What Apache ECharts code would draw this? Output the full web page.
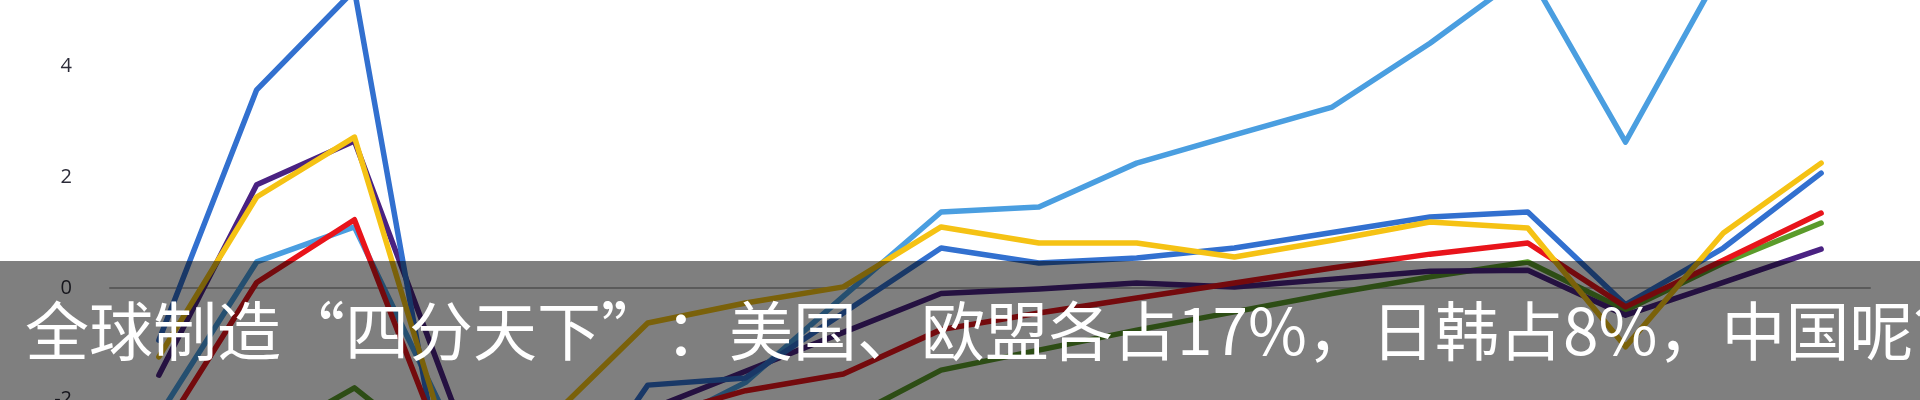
<!DOCTYPE html>
<html>
<head>
<meta charset="utf-8">
<script src="https://cdn.jsdelivr.net/npm/echarts@6/dist/echarts.min.js"></script>
<style>
html,body{margin:0;padding:0;background:#fff;}
#wrap{position:relative;width:1920px;height:400px;overflow:hidden;}
#c{position:absolute;left:0;top:-200px;width:1920px;height:900px;}
#band{position:absolute;left:0;top:261px;width:1920px;height:139px;background:rgba(0,0,0,0.5);overflow:hidden;}
#cap{position:absolute;left:25px;top:34px;white-space:nowrap;color:#fff;font-family:"Noto Sans CJK SC";font-size:64px;line-height:64px;text-spacing-trim:space-all;}
.fw{font-feature-settings:"fwid";}
</style>
</head>
<body>
<div id="wrap">
<div id="c"></div>
<div id="band"><div id="cap"></div></div>
</div>
<script>
var categories = ['2000','2001','2002','2003','2004','2005','2006','2007','2008','2009','2010','2011','2012','2013','2014','2015','2016','2017'];
var yTicks = [-6, -4, -2, 0, 2, 4, 6];
var lightBlue  = [-2.3, 0.47, 1.1, -2.55, -3.0, -2.6, -1.7, -0.15, 1.37, 1.46, 2.25, 2.76, 3.26, 4.41, 5.7, 2.63, 5.8, 6.0];
var mediumBlue = [-0.94, 3.57, 5.37, -4.5, -4.3, -1.75, -1.62, -0.45, 0.72, 0.45, 0.54, 0.72, 1.0, 1.28, 1.37, -0.3, 0.72, 2.07];
var yellow     = [-1.24, 1.64, 2.72, -3.1, -2.35, -0.63, -0.27, 0.02, 1.1, 0.81, 0.81, 0.56, 0.86, 1.19, 1.08, -1.06, 0.99, 2.25];
var purple     = [-1.57, 1.86, 2.65, -2.05, -2.6, -2.2, -1.5, -0.8, -0.1, -0.02, 0.09, 0.02, 0.16, 0.3, 0.32, -0.49, 0.1, 0.7];
var red        = [-2.7, 0.1, 1.23, -3.3, -2.9, -2.35, -1.85, -1.55, -0.75, -0.45, -0.18, 0.09, 0.36, 0.61, 0.81, -0.34, 0.5, 1.35];
var green      = [-3.5, -2.8, -1.8, -3.2, -3.6, -3.3, -2.9, -2.4, -1.48, -1.12, -0.76, -0.43, -0.1, 0.2, 0.47, -0.4, 0.45, 1.17];
var captionParts = ['全球制造', '“', '四分天下', '”', '：美国、欧盟各占17%，日韩占8%，中国呢？'];

var cap = document.getElementById('cap');
captionParts.forEach(function (p) {
  var s = document.createElement('span');
  if (p === '“' || p === '”') s.className = 'fw';
  s.textContent = p;
  cap.appendChild(s);
});

var chart = echarts.init(document.getElementById('c'), null, {renderer: 'canvas'});
function mk(data, color) {
  return {
    type: 'line', data: data, symbol: 'none', smooth: false,
    lineStyle: {color: color, width: 5.5, cap: 'round', join: 'round'},
    itemStyle: {color: color}
  };
}
chart.setOption({
  animation: false,
  backgroundColor: '#ffffff',
  grid: {left: 110, right: 50, top: 155, bottom: 79, containLabel: false},
  xAxis: {
    type: 'category', data: categories, boundaryGap: true,
    axisLine: {onZero: true, lineStyle: {color: '#b4b4b4', width: 2}},
    axisTick: {show: false}, axisLabel: {show: false}, splitLine: {show: false}
  },
  yAxis: {
    type: 'value', min: yTicks[0], max: yTicks[yTicks.length - 1], interval: 2,
    axisLine: {show: false}, axisTick: {show: false}, splitLine: {show: false},
    axisLabel: {color: '#2b2b38', fontSize: 20, fontFamily: 'Open Sans', margin: 38}
  },
  series: [
    mk(green, '#5b9b2b'),
    mk(purple, '#4a2282'),
    mk(lightBlue, '#4a9ee0'),
    mk(mediumBlue, '#3270cf'),
    mk(red, '#e8141b'),
    mk(yellow, '#f5c214')
  ]
});
</script>
</body>
</html>
